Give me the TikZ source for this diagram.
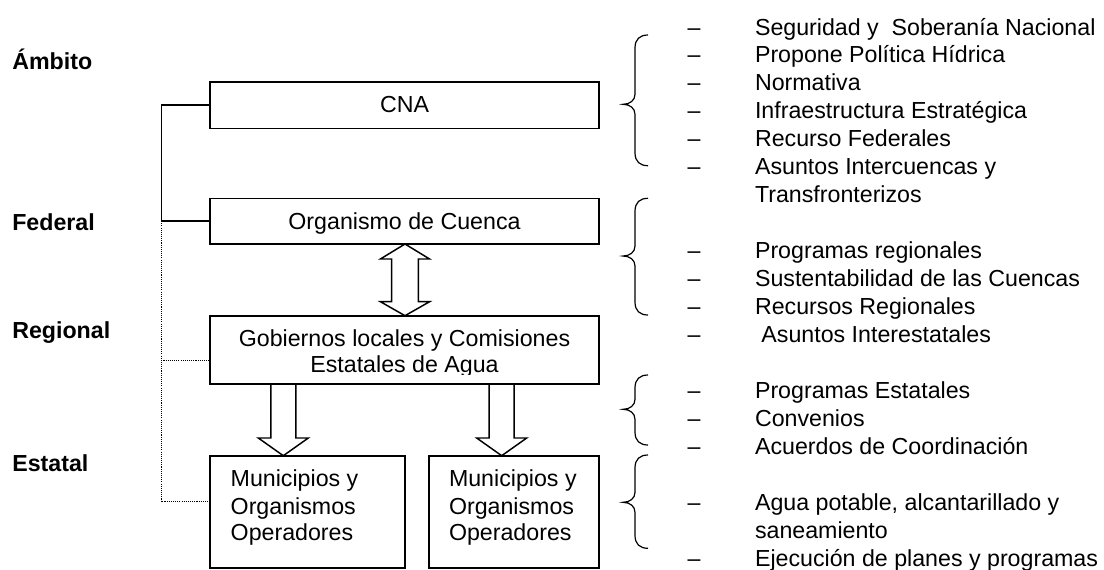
\documentclass[tikz,border=0pt]{standalone}
\usepackage{fontspec}
\setmainfont{Liberation Sans}
\usetikzlibrary{calc,fit}
\newcommand\mybrace[3]{%
  \draw[bracestyle] (648,#1) .. controls (640,#1) and (635,#1+4) .. (635,#1+13)
    -- (635,#3-10) .. controls (635,#3-4) and (630,#3) .. (623,#3)
    .. controls (630,#3) and (635,#3+4) .. (635,#3+10)
    -- (635,#2-13) .. controls (635,#2-4) and (640,#2) .. (648,#2);}
\newcommand\itm[3]{\node[item] (#1) at (687.7,#2) {\makebox[50.5pt][l]{–}#3};}
\begin{document}
\begin{tikzpicture}[x=0.75pt,y=-0.75pt,
  every node/.style={font=\fontsize{17.4pt}{20.96pt}\selectfont, inner sep=0pt, outer sep=0pt},
  box/.style={draw, line width=1.2pt, inner sep=0pt},
  txt/.style={anchor=base},
  txtl/.style={anchor=base west},
  item/.style={anchor=base west},
  lvl/.style={anchor=base west, font=\fontsize{17.4pt}{20.96pt}\selectfont\bfseries},
  conn/.style={line width=1.1pt},
  dotline/.style={line width=0.9pt, dash pattern=on 0.8pt off 0.8pt},
  blockarrow/.style={draw, line width=1.1pt, line join=miter},
  bracestyle/.style={line width=0.9pt},
]
\useasboundingbox (0,0) rectangle (1104,569);

% level labels
\node[lvl] (amb) at (12.3,69.3) {Ámbito};
\node[lvl] (fed) at (12.3,230) {Federal};
\node[lvl] (reg) at (12.3,338.3) {Regional};
\node[lvl] (est) at (12.3,471.7) {Estatal};

% boxes
\node[box, fit={(210,81.7) (599,128.3)}] (cna) {};
\node[box, fit={(210,198.3) (599,244)}] (org) {};
\node[box, fit={(210,315.7) (599,384)}] (gob) {};
\node[box, fit={(210,455.7) (405,567.7)}] (m1) {};
\node[box, fit={(429,455.7) (599,567.7)}] (m2) {};

% box texts
\node[txt] (cnaT) at (404.5,112.7) {CNA};
\node[txt] (orgT) at (404.5,229.3) {Organismo de Cuenca};
\node[txt] (gobT1) at (404.5,346) {Gobiernos locales y Comisiones};
\begin{scope}
  \clip (210,316) rectangle (599,374);
  \node[txt] (gobT2) at (404.5,372.7) {Estatales de Agua};
\end{scope}
\node[txtl] (m1a) at (230.7,486.7) {Municipios y};
\node[txtl] (m1b) at (230.7,514) {Organismos};
\node[txtl] (m1c) at (230.7,540.7) {Operadores};
\node[txtl] (m2a) at (449,486.7) {Municipios y};
\node[txtl] (m2b) at (449,514) {Organismos};
\node[txtl] (m2c) at (449,540.7) {Operadores};

% left connectors
\coordinate (rail) at (161.3,0);
\draw[conn] (cna.west) -- (rail |- cna.west) -- (rail |- org.west) -- (org.west);
\draw[dotline] (rail |- org.west) -- ($(rail |- m1.west)+(0,-10)$) -- ($(m1.west)+(0,-10)$);
\draw[dotline] ($(rail |- gob.west)+(0,11)$) -- ($(gob.west)+(0,11)$);

% double block arrow
\coordinate (dax) at (405,0);
\path (dax |- org.south) coordinate (dt) (dax |- gob.north) coordinate (db);
\draw[blockarrow] (dt) -- ++(24.6,15) -- ++(-11.3,0) -- ($(db)+(13.3,-14)$) -- ++(11.3,0)
  -- (db) -- ++(-24.6,-14) -- ++(11.3,0) -- ($(dt)+(-13.3,15)$) -- ++(-11.3,0) -- cycle;

% down block arrows
\coordinate (ax1) at (283.3,0);
\coordinate (ax2) at (501.7,0);
\draw[blockarrow] ($(ax1 |- gob.south)+(-12.5,0)$) -- ($(ax1 |- m1.north)+(-12.5,-17.7)$)
  -- ++(-12.5,0) -- (ax1 |- m1.north) -- ++(25,-17.7) -- ++(-12.5,0)
  -- ($(ax1 |- gob.south)+(12.5,0)$);
\draw[blockarrow] ($(ax2 |- gob.south)+(-12.5,0)$) -- ($(ax2 |- m2.north)+(-12.5,-17.7)$)
  -- ++(-12.5,0) -- (ax2 |- m2.north) -- ++(25,-17.7) -- ++(-12.5,0)
  -- ($(ax2 |- gob.south)+(12.5,0)$);

% braces
\mybrace{35}{165.7}{104.3}
\mybrace{198.3}{315}{256}
\mybrace{375}{445}{409.3}
\mybrace{455}{548.3}{502.3}

% list
\itm{r0}{35.0}{Seguridad y \ Soberanía Nacional}
\itm{r1}{62.9}{Propone Política Hídrica}
\itm{r2}{90.9}{Normativa}
\itm{r3}{118.8}{Infraestructura Estratégica}
\itm{r4}{146.8}{Recurso Federales}
\itm{r5}{174.7}{Asuntos Intercuencas y}
\node[txtl] (r6) at (755,202.7) {Transfronterizos};
\itm{r8}{258.6}{Programas regionales}
\itm{r9}{286.5}{Sustentabilidad de las Cuencas}
\itm{r10}{314.5}{Recursos Regionales}
\itm{r11}{342.4}{\ Asuntos Interestatales}
\itm{r13}{398.3}{Programas Estatales}
\itm{r14}{426.3}{Convenios}
\itm{r15}{454.2}{Acuerdos de Coordinación}
\itm{r17}{510.1}{Agua potable, alcantarillado y}
\node[txtl] (r18) at (755,538.0) {saneamiento};
\itm{r19}{566.0}{Ejecución de planes y programas}
\end{tikzpicture}
\end{document}
